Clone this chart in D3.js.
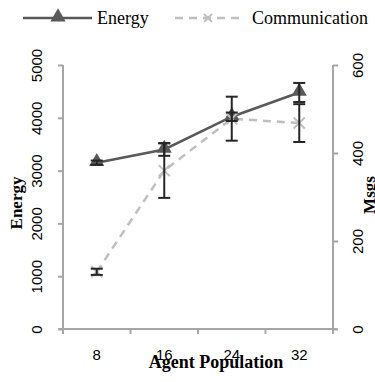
<!doctype html>
<html>
<head>
  <meta charset="utf-8">
  <title>Energy and Communication</title>
  <style>
    body { margin: 0; background: #fff; }
    svg { display: block; }
  </style>
</head>
<body>
  <div class="chart"></div>
  <script src="https://cdn.jsdelivr.net/npm/d3@7"></script>
  <script>
// data
var populations = ["8", "16", "24", "32"];
var energy = [3150, 3400, 4020, 4480];
var energyErr = [40, 120, 80, 180];
var msgs = [130, 360, 478, 468];
var msgsErr = [7, 62, 50, 43];
var energyTicks = [0, 1000, 2000, 3000, 4000, 5000];
var msgsTicks = [0, 200, 400, 600];

var w = 375, h = 382;
var plotL = 63, plotR = 333, plotT = 65, plotB = 329;

var svg = d3.select(".chart").append("svg")
    .attr("width", w)
    .attr("height", h);

var x = d3.scaleBand().domain(populations).range([plotL, plotR]);
var yE = d3.scaleLinear().domain([0, 5000]).range([plotB, plotT]);
var yM = d3.scaleLinear().domain([0, 600]).range([plotB, plotT]);

var axisColor = "#a6a6a6";
var sans = "Liberation Sans, Arial, sans-serif";
var serif = "Liberation Serif, Times New Roman, serif";

// left axis
var gl = svg.append("g").attr("transform", "translate(" + plotL + ",0)")
    .call(d3.axisLeft(yE).tickValues(energyTicks).tickSize(5).tickFormat(d3.format("d")));
// right axis
var gr = svg.append("g").attr("transform", "translate(" + plotR + ",0)")
    .call(d3.axisRight(yM).tickValues(msgsTicks).tickSize(5).tickFormat(d3.format("d")));
// bottom axis, ticks on category boundaries
var gb = svg.append("g").attr("transform", "translate(0," + plotB + ")")
    .call(d3.axisBottom(x).tickSize(0));

[gl, gr, gb].forEach(function(g) {
  g.select(".domain").attr("stroke", axisColor).attr("stroke-width", 2);
  g.selectAll(".tick line").attr("stroke", axisColor).attr("stroke-width", 2);
  g.selectAll("text").attr("fill", "#000").style("font-family", sans).style("font-size", "15px");
});
gl.select(".domain").attr("d", "M0," + plotT + "V" + plotB);
gr.select(".domain").attr("d", "M0," + plotT + "V" + plotB);
gb.select(".domain").attr("d", "M" + (plotL - 5) + ",0H" + (plotR + 4));

gl.selectAll(".tick text")
    .attr("transform", "rotate(-90)")
    .attr("x", 0).attr("y", -21).attr("dy", 0)
    .attr("text-anchor", "middle");
gr.selectAll(".tick text")
    .attr("transform", "rotate(-90)")
    .attr("x", 0).attr("y", 30).attr("dy", 0)
    .attr("text-anchor", "middle");
gb.selectAll(".tick text").attr("y", 20).attr("dy", "0.71em");

// boundary ticks on x axis
var bounds = populations.map(function(p) { return x(p); }).concat([plotR]);
gb.selectAll(".bound").data(bounds).enter().append("line")
    .attr("x1", function(d) { return d; }).attr("x2", function(d) { return d; })
    .attr("y1", 0).attr("y2", 5)
    .attr("stroke", axisColor).attr("stroke-width", 2);

var cx = function(i) { return x(populations[i]) + x.bandwidth() / 2; };

// communication line (dashed)
var lineM = d3.line().x(function(d, i) { return cx(i); }).y(function(d) { return yM(d); });
svg.append("path").datum(msgs)
    .attr("d", lineM)
    .attr("fill", "none").attr("stroke", "#bfbfbf").attr("stroke-width", 2.5)
    .attr("stroke-dasharray", "8,6");

// energy line
var lineE = d3.line().x(function(d, i) { return cx(i); }).y(function(d) { return yE(d); });
svg.append("path").datum(energy)
    .attr("d", lineE)
    .attr("fill", "none").attr("stroke", "#595959").attr("stroke-width", 2.5);

var triangle = d3.symbol().type(d3.symbolTriangle).size(100);

// markers
svg.selectAll(".em").data(energy).enter().append("path")
    .attr("d", triangle)
    .attr("transform", function(d, i) { return "translate(" + cx(i) + "," + (yE(d) - 1) + ")"; })
    .attr("fill", "#595959");

function cross(g, px, py, s) {
  g.append("path")
    .attr("d", "M" + (px - s) + "," + (py - s) + "L" + (px + s) + "," + (py + s) +
               "M" + (px - s) + "," + (py + s) + "L" + (px + s) + "," + (py - s))
    .attr("stroke", "#bfbfbf").attr("stroke-width", 2).attr("fill", "none");
}
msgs.forEach(function(d, i) { cross(svg, cx(i), yM(d), 5.5); });

// error bars
function errBar(px, lo, hi) {
  var g = svg.append("g").attr("stroke", "#262626").attr("stroke-width", 2);
  g.append("line").attr("x1", px).attr("x2", px).attr("y1", lo).attr("y2", hi);
  g.append("line").attr("x1", px - 6).attr("x2", px + 6).attr("y1", lo).attr("y2", lo);
  g.append("line").attr("x1", px - 6).attr("x2", px + 6).attr("y1", hi).attr("y2", hi);
}
energy.forEach(function(d, i) { errBar(cx(i), yE(d - energyErr[i]), yE(d + energyErr[i])); });
msgs.forEach(function(d, i) { errBar(cx(i), yM(d - msgsErr[i]), yM(d + msgsErr[i])); });

// axis titles
svg.append("text")
    .attr("transform", "translate(22,203) rotate(-90)")
    .attr("text-anchor", "middle")
    .style("font-family", serif).style("font-weight", "bold").style("font-size", "17px")
    .text("Energy");
svg.append("text")
    .attr("transform", "translate(375,195) rotate(-90)")
    .attr("text-anchor", "middle")
    .style("font-family", serif).style("font-weight", "bold").style("font-size", "17px")
    .text("Msgs");
svg.append("text")
    .attr("x", 216).attr("y", 368)
    .attr("text-anchor", "middle")
    .style("font-family", serif).style("font-weight", "bold").style("font-size", "18px")
    .text("Agent Population");

// legend
var lg = svg.append("g");
lg.append("line").attr("x1", 23).attr("x2", 92).attr("y1", 18).attr("y2", 18)
    .attr("stroke", "#595959").attr("stroke-width", 2.5);
lg.append("path").attr("d", triangle).attr("transform", "translate(58,17)").attr("fill", "#595959");
lg.append("text").attr("x", 97).attr("y", 24)
    .style("font-family", serif).style("font-size", "18px").text("Energy");
lg.append("line").attr("x1", 175).attr("x2", 242).attr("y1", 18).attr("y2", 18)
    .attr("stroke", "#bfbfbf").attr("stroke-width", 2.5).attr("stroke-dasharray", "8,6");
cross(lg, 208, 18, 4);
lg.append("text").attr("x", 252).attr("y", 24)
    .style("font-family", serif).style("font-size", "18px").text("Communication");
  </script>
</body>
</html>
